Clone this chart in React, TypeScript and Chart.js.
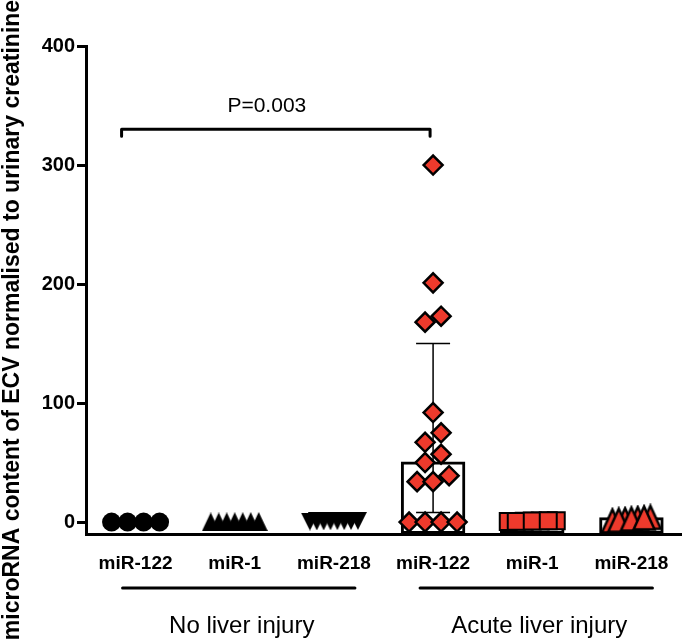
import React, { useEffect, useRef } from "react";
import { Chart, registerables } from "chart.js";

Chart.register(...registerables);

// ---------------- data ----------------
const CATEGORIES = ["miR-122", "miR-1", "miR-218", "miR-122", "miR-1", "miR-218"];
const GROUP_NAMES = ["No liver injury", "Acute liver injury"];
const GROUP_RANGES = [[0, 2], [3, 5]];

const NL_MIR122 = [0, 0, 0, 0];
const NL_MIR1 = [0.3, 0.1, 0.5, 0.2, 0.4, 0.1, 0.3];
const NL_MIR218 = [0.8, 0.6, 1.0, 0.7, 0.9, 0.5, 0.8, 0.6];
const AL_MIR122 = [300, 201, 173, 168, 92, 75, 67, 57, 50, 39, 34, 34, 0, 0, 0, 0];
const AL_MIR1 = [0.5, 1.0, 0.8, 1.2, 0.6, 0.9, 1.1];
const AL_MIR218 = [3, 1, 2, 1.5, 4, 2.5, 3.5];

const BAR_VALUES = [0, 0.4, 0.8, 51, 7.5, 4];
const ERR_LOW = [null, null, null, 8, null, null];
const ERR_HIGH = [null, null, null, 150, null, null];

const Y_MIN = -10;
const Y_MAX = 400;
const Y_TICKS = [0, 100, 200, 300, 400];

const BRACKET_FROM = 0;
const BRACKET_TO = 3;
const BRACKET_Y = 330;
const P_LABEL = "P=0.003";

const Y_TITLE = "microRNA content of ECV normalised to urinary creatinine";

// ---------------- layout / style ----------------
const W = 683;
const H = 639;
const TOP = 46;
const LEFT = 86;
const BOTTOM_H = 105;
const RIGHT_PAD = 2;
const PLOT_H = H - BOTTOM_H - TOP;
const PLOT_W = W - LEFT - RIGHT_PAD;
const PX_PER_UNIT = PLOT_H / (Y_MAX - Y_MIN);
const PX_PER_CAT = PLOT_W / CATEGORIES.length;
const FONT = "'Liberation Sans', Arial, Helvetica, sans-serif";
const RED = "#EE3A2C";

// beeswarm layout (in px), returns x offsets in category units
function swarm(vals: number[], diam: number, maxHalf: number): number[] {
  const idx = vals.map((_, i) => i).sort((a, b) => vals[a] - vals[b]);
  const ypx = vals.map((v) => v * PX_PER_UNIT);
  const clusters: number[][] = [];
  let cur: number[] = [];
  let start: number | null = null;
  for (const i of idx) {
    if (start === null || ypx[i] - start >= diam * 0.75) {
      if (cur.length) clusters.push(cur);
      cur = [i];
      start = ypx[i];
    } else cur.push(i);
  }
  if (cur.length) clusters.push(cur);
  const placed: { x: number; y: number }[] = [];
  const off = new Array(vals.length).fill(0);
  for (const c of clusters) {
    const n = c.length;
    let step = diam;
    if ((n - 1) * step > maxHalf * 2) step = (maxHalf * 2) / (n - 1);
    const base = c.map((_, k) => (k - (n - 1) / 2) * step);
    const shifts = [0];
    for (let s = 1; s <= 8; s++) shifts.push((s * diam) / 2, (-s * diam) / 2);
    let chosen = 0;
    for (const sh of shifts) {
      const ok = c.every((i, k) =>
        placed.every((p) => Math.hypot(p.x - (base[k] + sh), p.y - ypx[i]) >= diam * 0.95)
      );
      if (ok) {
        chosen = sh;
        break;
      }
    }
    c.forEach((i, k) => {
      off[i] = base[k] + chosen;
      placed.push({ x: off[i], y: ypx[i] });
    });
  }
  return off.map((o) => o / PX_PER_CAT);
}

function points(vals: number[], cat: number, maxHalf = 24) {
  const off = swarm(vals, 16, maxHalf);
  return vals.map((v, i) => ({ x: cat + off[i], y: v }));
}

// triangle marker centred on its bounding box
function triangle(w: number, h: number, fill: string, stroke: string, lw: number, inverted: boolean) {
  const pad = lw;
  const c = document.createElement("canvas");
  c.width = Math.ceil(w + pad * 2);
  c.height = Math.ceil(h + pad * 2);
  const ctx = c.getContext("2d")!;
  const x0 = (c.width - w) / 2;
  const y0 = (c.height - h) / 2;
  ctx.beginPath();
  if (!inverted) {
    ctx.moveTo(x0 + w / 2, y0);
    ctx.lineTo(x0 + w, y0 + h);
    ctx.lineTo(x0, y0 + h);
  } else {
    ctx.moveTo(x0, y0);
    ctx.lineTo(x0 + w, y0);
    ctx.lineTo(x0 + w / 2, y0 + h);
  }
  ctx.closePath();
  ctx.fillStyle = fill;
  ctx.fill();
  if (lw > 0) {
    ctx.lineJoin = "miter";
    ctx.strokeStyle = stroke;
    ctx.lineWidth = lw;
    ctx.stroke();
  }
  return c;
}

const annotPlugin = {
  id: "annot",
  afterDatasetDraw(chart: any, args: any) {
    if (args.index !== 0) return;
    const ctx = chart.ctx;
    const xs = chart.scales.xs;
    const y = chart.scales.y;
    ctx.save();
    ctx.strokeStyle = "#000";
    ctx.lineWidth = 1.5;
    for (let i = 0; i < CATEGORIES.length; i++) {
      const lo = ERR_LOW[i];
      const hi = ERR_HIGH[i];
      if (lo === null || hi === null) continue;
      const cx = xs.getPixelForValue(i);
      const yl = y.getPixelForValue(lo);
      const yh = y.getPixelForValue(hi);
      ctx.beginPath();
      ctx.moveTo(cx, yl);
      ctx.lineTo(cx, yh);
      ctx.moveTo(cx - 17, yl);
      ctx.lineTo(cx + 17, yl);
      ctx.moveTo(cx - 17, yh);
      ctx.lineTo(cx + 17, yh);
      ctx.stroke();
    }
    ctx.restore();
  },
  afterDraw(chart: any) {
    const ctx = chart.ctx;
    const xs = chart.scales.xs;
    const y = chart.scales.y;
    ctx.save();
    ctx.strokeStyle = "#000";
    ctx.fillStyle = "#000";
    // bracket
    const by = y.getPixelForValue(BRACKET_Y);
    const bl = xs.getPixelForValue(BRACKET_FROM) - 14;
    const br = xs.getPixelForValue(BRACKET_TO) - 3;
    ctx.lineWidth = 3;
    ctx.lineJoin = "round";
    ctx.lineCap = "round";
    ctx.beginPath();
    ctx.moveTo(bl, by + 7);
    ctx.lineTo(bl, by);
    ctx.lineTo(br, by);
    ctx.lineTo(br, by + 7);
    ctx.stroke();
    ctx.font = `21px ${FONT}`;
    ctx.textAlign = "center";
    ctx.textBaseline = "middle";
    ctx.fillText(P_LABEL, (bl + br) / 2 - 9, by - 23);

    // group underlines and names
    const lineY = 588;
    GROUP_RANGES.forEach(([a, b], g) => {
      const x1 = xs.getPixelForValue(a) - 13;
      const x2 = xs.getPixelForValue(b) + 21;
      ctx.lineWidth = 3;
      ctx.lineCap = "round";
      ctx.beginPath();
      ctx.moveTo(x1, lineY);
      ctx.lineTo(x2, lineY);
      ctx.stroke();
      ctx.font = `24px ${FONT}`;
      ctx.textAlign = "center";
      ctx.textBaseline = "middle";
      ctx.fillText(GROUP_NAMES[g], (x1 + x2) / 2 + 3, 626);
    });

    // y title
    ctx.translate(13, 320);
    ctx.rotate(-Math.PI / 2);
    ctx.font = `bold 23px ${FONT}`;
    ctx.textAlign = "center";
    ctx.textBaseline = "middle";
    ctx.fillText(Y_TITLE, 0, 0);
    ctx.restore();
  },
};

export default function App() {
  const ref = useRef<HTMLCanvasElement>(null);
  useEffect(() => {
    document.body.style.margin = "0";
    const canvas = ref.current!;
    const triUpBlack = triangle(18, 19, "#000", "#000", 0, false);
    const triDownBlack = triangle(18, 18, "#000", "#000", 0, true);
    const triUpRed = triangle(21, 23, RED, "#000", 2.5, false);
    const scatter = (vals: number[], cat: number, style: any, maxHalf = 24) => ({
      type: "scatter",
      xAxisID: "xs",
      yAxisID: "y",
      order: 0,
      data: points(vals, cat, maxHalf),
      showLine: false,
      ...style,
    });
    const chart = new Chart(canvas, {
      type: "bar",
      data: {
        labels: CATEGORIES,
        datasets: [
          {
            type: "bar",
            xAxisID: "x",
            yAxisID: "y",
            order: 10,
            data: BAR_VALUES,
            base: Y_MIN,
            grouped: false,
            backgroundColor: "rgba(0,0,0,0)",
            borderColor: ["rgba(0,0,0,0)", "rgba(0,0,0,0)", "rgba(0,0,0,0)", "#000", "#000", "#000"],
            borderWidth: 3,
            borderSkipped: false,
            barPercentage: 0.65,
            categoryPercentage: 1,
          } as any,
          scatter(NL_MIR122, 0, { pointStyle: "circle", radius: 9.5, backgroundColor: "#000", borderColor: "#000", borderWidth: 0 }),
          scatter(NL_MIR1, 1, { pointStyle: triUpBlack, radius: 9, backgroundColor: "#000", borderWidth: 0 }),
          scatter(NL_MIR218, 2, { pointStyle: triDownBlack, radius: 9, backgroundColor: "#000", borderWidth: 0 }),
          scatter(AL_MIR122, 3, { pointStyle: "rectRot", radius: 9.5, backgroundColor: RED, borderColor: "#000", borderWidth: 2.5 }),
          scatter(AL_MIR1, 4, { pointStyle: "rect", radius: 12, backgroundColor: RED, borderColor: "#000", borderWidth: 2 }),
          scatter(AL_MIR218, 5, { pointStyle: triUpRed, radius: 10, backgroundColor: RED, borderWidth: 0 }, 19),
        ] as any,
      },
      options: {
        responsive: false,
        animation: false,
        events: [],
        layout: { autoPadding: false, padding: { top: TOP, right: RIGHT_PAD, left: 0, bottom: 0 } },
        plugins: { legend: { display: false }, tooltip: { enabled: false } },
        scales: {
          x: {
            type: "category",
            offset: true,
            position: "bottom",
            grid: { display: false, drawTicks: true, tickLength: 18 },
            border: { display: true, color: "#000", width: 3 },
            ticks: { color: "#000", font: { family: FONT, size: 19, weight: "bold" }, padding: 0, maxRotation: 0 },
            afterFit(s: any) {
              s.height = BOTTOM_H;
            },
          },
          xs: {
            type: "linear",
            display: false,
            offset: false,
            grid: { offset: false },
            min: -0.5,
            max: CATEGORIES.length - 0.5,
          },
          y: {
            type: "linear",
            min: Y_MIN,
            max: Y_MAX,
            afterBuildTicks(s: any) {
              s.ticks = Y_TICKS.map((v) => ({ value: v }));
            },
            grid: { display: true, drawOnChartArea: false, drawTicks: true, tickLength: 9, tickWidth: 3, lineWidth: 3, tickColor: "#000" },
            border: { display: true, color: "#000", width: 3 },
            ticks: { color: "#000", font: { family: FONT, size: 20, weight: "bold" }, padding: 2 },
            afterFit(s: any) {
              s.width = LEFT;
            },
          },
        } as any,
      },
      plugins: [annotPlugin as any],
    } as any);
    return () => chart.destroy();
  }, []);
  return <canvas ref={ref} width={W} height={H} style={{ display: "block", width: W, height: H }} />;
}
